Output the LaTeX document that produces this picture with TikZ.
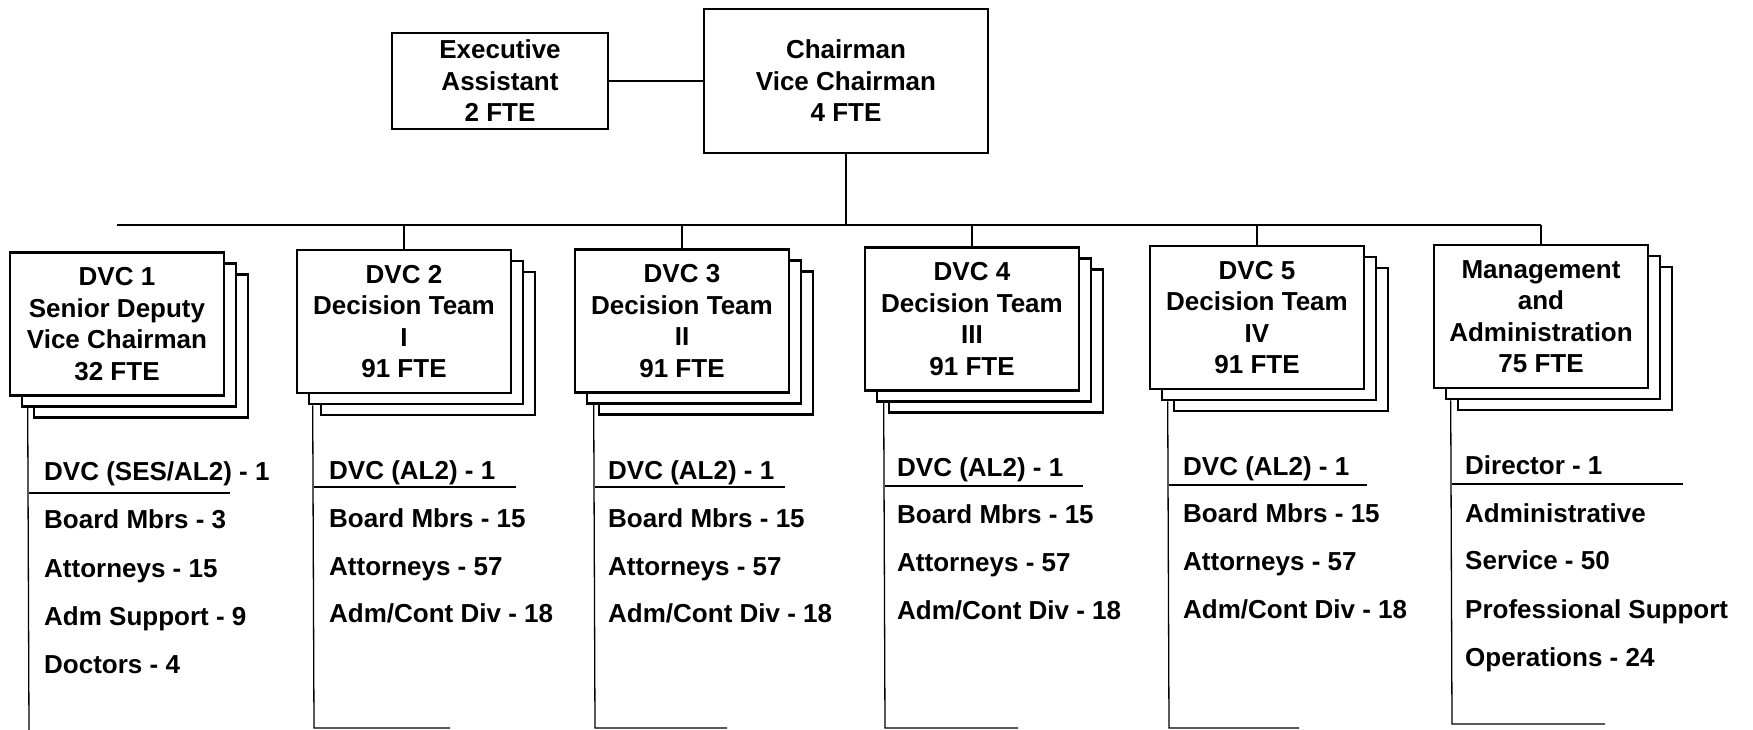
\documentclass[tikz,border=0pt]{standalone}
\usepackage{fontspec}
\setmainfont{Liberation Sans}
\usetikzlibrary{shadows}

\begin{document}
\begin{tikzpicture}[x=1pt,y=-1pt,
		boxtext/.style={font=\fontsize{26}{31.5}\selectfont\bfseries, align=center, inner sep=0pt},
		topbox/.style={boxtext, draw, line width=2.6pt, fill=white},
		stackbox/.style={topbox, minimum width=214pt, minimum height=143pt,
			copy shadow={shadow xshift=24pt, shadow yshift=-22pt},
			copy shadow={shadow xshift=12pt, shadow yshift=-11pt}},
		item/.style={font=\fontsize{26}{31.5}\selectfont\bfseries, anchor=base west, inner sep=0pt},
		wire/.style={line width=1.3pt}]
		\useasboundingbox (0,0) rectangle (1753,730);

		\node[topbox, minimum width=216pt, minimum height=96pt] (ea) at (500,81) {Executive\\Assistant\\2 FTE};
		\node[topbox, minimum width=284pt, minimum height=144pt] (ch) at (846,81) {Chairman\\Vice Chairman\\4 FTE};

		\node[stackbox] (d1) at (117,324) {DVC 1\\Senior Deputy\\Vice Chairman\\32 FTE};
		\node[stackbox] (d2) at (404,321.5) {DVC 2\\Decision Team\\I\\91 FTE};
		\node[stackbox] (d3) at (682,321) {DVC 3\\Decision Team\\II\\91 FTE};
		\node[stackbox] (d4) at (972,319) {DVC 4\\Decision Team\\III\\91 FTE};
		\node[stackbox] (d5) at (1257,317.5) {DVC 5\\Decision Team\\IV\\91 FTE};
		\node[stackbox] (d6) at (1541,316.5) {Management\\and\\Administration\\75 FTE};

		\coordinate (bus) at (846,225);
		\draw[wire] (ea.east) -- (ch.west);
		\draw[wire] (ch.south) -- (bus);
		\draw[wire] (d1.north |- bus) -- (d6.north |- bus);
		\draw[wire] (d2.north |- bus) -- (d2.north);
		\draw[wire] (d3.north |- bus) -- (d3.north);
		\draw[wire] (d4.north |- bus) -- (d4.north);
		\draw[wire] (d5.north |- bus) -- (d5.north);
		\draw[wire] (d6.north |- bus) -- (d6.north);

		% staff lists
		\coordinate (b1) at (29,730);
		\coordinate (b2) at (314,728);
		\coordinate (b3) at (595,728);
		\coordinate (b4) at (885,728);
		\coordinate (b5) at (1169,728);
		\coordinate (b6) at (1452,724);

		\draw[wire] ([xshift=19pt,yshift=-11pt]d1.south west) -- (b1);
		\draw[wire] ([xshift=17pt,yshift=-11pt]d2.south west) -- (b2) -- ++(136,0);
		\draw[wire] ([xshift=20pt,yshift=-11pt]d3.south west) -- (b3) -- ++(132,0);
		\draw[wire] ([xshift=20pt,yshift=-11pt]d4.south west) -- (b4) -- ++(133,0);
		\draw[wire] ([xshift=19pt,yshift=-11pt]d5.south west) -- (b5) -- ++(130,0);
		\draw[wire] ([xshift=18pt,yshift=-11pt]d6.south west) -- (b6) -- ++(153,0);

		\draw[wire] (29,493) -- (230,493);
		\draw[wire] (314,487) -- (516,487);
		\draw[wire] (595,487) -- (785,487);
		\draw[wire] (885,486) -- (1083,486);
		\draw[wire] (1169,485) -- (1367,485);
		\draw[wire] (1452,484) -- (1683,484);

		\node[item] (s1a) at (44,480) {DVC (SES/AL2) - 1};
		\node[item] (s1b) at (44,528) {Board Mbrs - 3};
		\node[item] (s1c) at (44,577) {Attorneys - 15};
		\node[item] (s1d) at (44,625) {Adm Support - 9};
		\node[item] (s1e) at (44,673) {Doctors - 4};

		\node[item] (s2a) at (329,479) {DVC (AL2) - 1};
		\node[item] (s2b) at (329,527) {Board Mbrs - 15};
		\node[item] (s2c) at (329,575) {Attorneys - 57};
		\node[item] (s2d) at (329,622) {Adm/Cont Div - 18};

		\node[item] (s3a) at (608,479) {DVC (AL2) - 1};
		\node[item] (s3b) at (608,527) {Board Mbrs - 15};
		\node[item] (s3c) at (608,575) {Attorneys - 57};
		\node[item] (s3d) at (608,622) {Adm/Cont Div - 18};

		\node[item] (s4a) at (897,476) {DVC (AL2) - 1};
		\node[item] (s4b) at (897,523) {Board Mbrs - 15};
		\node[item] (s4c) at (897,571) {Attorneys - 57};
		\node[item] (s4d) at (897,619) {Adm/Cont Div - 18};

		\node[item] (s5a) at (1183,475) {DVC (AL2) - 1};
		\node[item] (s5b) at (1183,522) {Board Mbrs - 15};
		\node[item] (s5c) at (1183,570) {Attorneys - 57};
		\node[item] (s5d) at (1183,618) {Adm/Cont Div - 18};

		\node[item] (s6a) at (1465,474) {Director - 1};
		\node[item] (s6b) at (1465,522) {Administrative};
		\node[item] (s6c) at (1465,569) {Service - 50};
		\node[item] (s6d) at (1465,618) {Professional Support};
		\node[item] (s6e) at (1465,666) {Operations - 24};

	\end{tikzpicture}
\end{document}
